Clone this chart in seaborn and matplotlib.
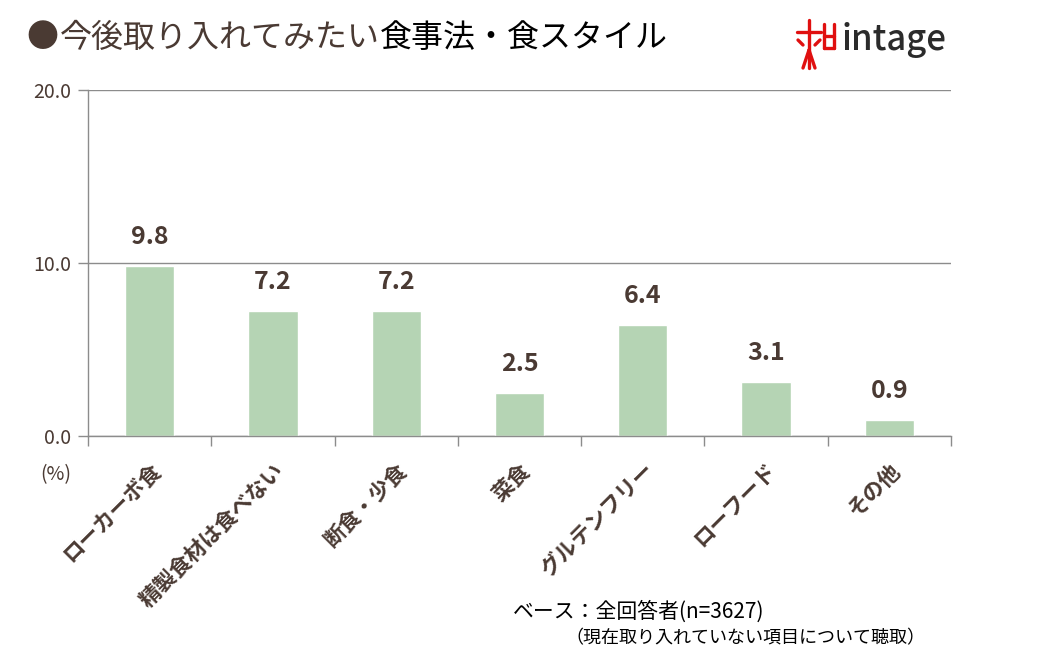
import matplotlib
matplotlib.use("Agg")
import matplotlib.pyplot as plt
import seaborn as sns
import pandas as pd
from matplotlib.lines import Line2D

categories = ["ローカーボ食", "精製食材は食べない", "断食・少食", "菜食", "グルテンフリー", "ローフード", "その他"]
values = [9.8, 7.2, 7.2, 2.5, 6.4, 3.1, 0.9]
y_ticks = [0.0, 10.0, 20.0]

sns.set_theme(style="white")
plt.rcParams['font.family'] = ['Noto Sans CJK JP', 'DejaVu Sans']

BROWN = "#4a3a33"
BAR = "#b5d4b4"
GRID = "#8c8c8c"

df = pd.DataFrame({"cat": categories, "val": values})

fig = plt.figure(figsize=(10.61, 6.65), dpi=100)
ax = fig.add_axes([88/1061, 1-436/665, (951-88)/1061, (436-90)/665])

sns.barplot(data=df, x="cat", y="val", color=BAR, width=0.4, ax=ax, saturation=1)

ax.set_xlim(-0.5, len(categories)-0.5)
ax.set_ylim(0, 20)
ax.set_yticks(y_ticks)
ax.set_yticklabels([f"{v:.1f}" for v in y_ticks], fontsize=14, color=BROWN)
ax.yaxis.grid(True, color=GRID, linewidth=1)
ax.set_axisbelow(True)
for s in ["top", "right"]:
    ax.spines[s].set_visible(False)
for s in ["left", "bottom"]:
    ax.spines[s].set_color(GRID)
    ax.spines[s].set_linewidth(1)
ax.tick_params(axis="y", which="both", left=True, length=7, color=GRID, width=1, pad=5)
ax.set_xlabel("")
ax.set_ylabel("")

n = len(categories)
ax.set_xticks([i - 0.5 for i in range(n + 1)])
ax.set_xticklabels([])
ax.tick_params(axis="x", which="major", bottom=True, length=7, color=GRID, width=1)
ax.set_xticks(list(range(n)), minor=True)
ax.set_xticklabels(categories, minor=True, rotation=45, ha="right", va="top",
                   rotation_mode="anchor", fontsize=15.5, fontweight="bold", color=BROWN)
ax.tick_params(axis="x", which="minor", length=0, pad=17)

for i, v in enumerate(values):
    ax.annotate(f"{v:.1f}", (i, v), xytext=(0, 21), textcoords="offset points",
                ha="center", va="center", fontsize=18, fontweight="bold", color=BROWN)

# Title
fig.text(26/1061, 1-38/665, "●", fontsize=23, color=BROWN, va="center", ha="left")
t1 = fig.text(60/1061, 1-38/665, "今後取り入れてみたい", fontsize=23, color=BROWN, va="center", ha="left")
fig.canvas.draw()
bb = t1.get_window_extent()
fig.text(bb.x1/1061, 1-38/665, "食事法・食スタイル", fontsize=23, color="black", va="center", ha="left")

# logo
fig.text(841/1061, 1-40/665, "intage", fontsize=25, fontweight="medium", color="#2b2b2b", va="center", ha="left")
red = "#e01010"
lines = [
    [(797, 32), (821, 32)], [(809, 20), (809, 68)], [(803, 68), (809, 50)], [(815, 68), (809, 50)],
    [(798, 40), (803, 45)], [(820, 40), (815, 45)],
    [(824, 24), (824, 48)], [(834, 24), (834, 48)], [(824, 36), (834, 36)], [(824, 48), (834, 48)],
]
for (x0, y0), (x1, y1) in lines:
    fig.add_artist(Line2D([x0/1061, x1/1061], [1-y0/665, 1-y1/665], color=red, linewidth=2.4,
                          transform=fig.transFigure))

# (%)
fig.text(40/1061, 1-475/665, "(%)", fontsize=14, color=BROWN, va="center", ha="left")

# footnote
fig.text(513/1061, 1-612/665, "ベース：全回答者(n=3627)", fontsize=15, color="black", va="center", ha="left")
fig.text(565/1061, 1-638/665, "（現在取り入れていない項目について聴取）", fontsize=13, color="black", va="center", ha="left")

fig.savefig("out.png", dpi=100)
